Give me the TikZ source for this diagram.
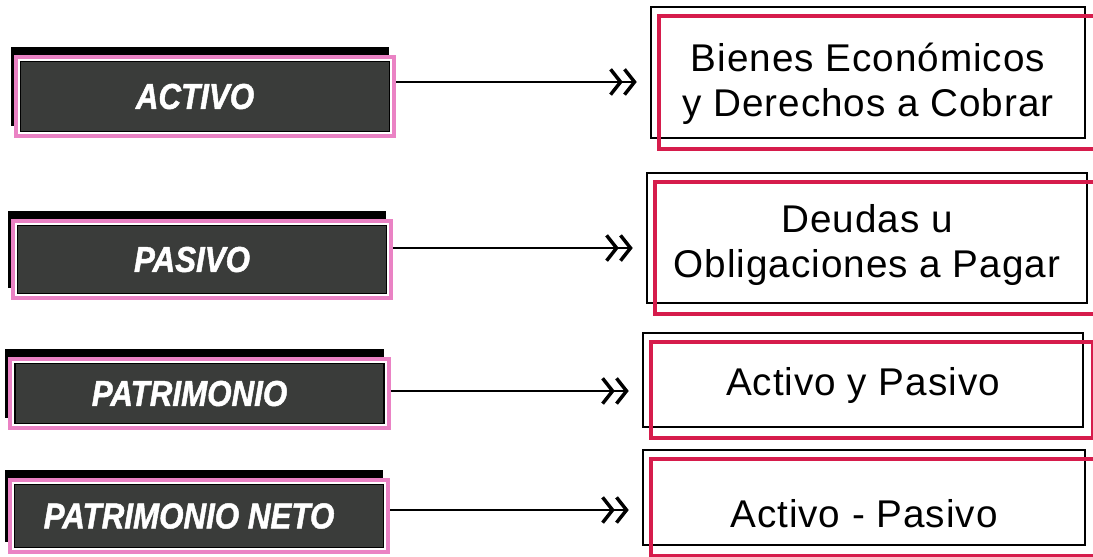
\documentclass[tikz,border=0pt]{standalone}
\usepackage{fontspec}
\setmainfont{Liberation Sans}
\newfontfamily\tagfont[FakeStretch=0.87,FakeBold=1.3]{Liberation Sans Bold Italic}
\newfontfamily\boxfont[LetterSpace=2.5]{Liberation Sans}
\usetikzlibrary{arrows.meta,shadows}
\definecolor{tagfill}{RGB}{58,60,58}
\definecolor{tagpink}{RGB}{234,130,196}
\definecolor{boxred}{RGB}{214,28,76}
\newcommand{\tg}{\tagfont\fontsize{27}{31}\selectfont}
\newcommand{\lo}[1]{\rule{0pt}{#1}}
\tikzset{
  tag/.style={draw=tagpink, line width=3pt, fill=white, minimum width=284pt,
    text=white, font=\tg, execute at end node={\kern15pt},
    general shadow={fill=black, shadow xshift=-3.75pt, shadow yshift=7.5pt},
    path picture={\draw[black, line width=1.2pt, fill=tagfill]
      ([shift={(3.6pt,-3.6pt)}]path picture bounding box.north west) rectangle
      ([shift={(-3.6pt,3.6pt)}]path picture bounding box.south east);}},
  defbox/.style={draw=black, line width=1.4pt, align=center,
    font=\boxfont\fontsize{29}{34}\selectfont},
  redframe/.style={draw=boxred, line width=3pt},
  conn/.style={line width=1.8pt, shorten >=10pt,
    -{Straight Barb[length=7.5pt,width=19pt,line width=2.6pt]
      Straight Barb[length=7.5pt,width=19pt,line width=2.6pt]}}
}

\begin{document}
\begin{tikzpicture}[x=0.75pt,y=-0.75pt]
  \useasboundingbox (0,0) rectangle (1093,557);
  % concepts
  \node[tag, minimum height=59.5pt] (tact) at (205,96.5)  {ACTIVO};
  \node[tag, minimum height=58pt]   (tpas) at (202,259.5) {PASIVO};
  \node[tag, minimum height=52pt]   (tpat) at (199.5,393.5) {PATRIMONIO};
  \node[tag, minimum height=54.3pt] (tnet) at (199,516)   {PATRIMONIO NETO};
  % definitions
  \node[defbox, minimum width=325.5pt, minimum height=98.25pt] (dact) at (868,72.5)
    {\lo{38.75pt}Bienes Económicos\\y Derechos a Cobrar};
  \node[defbox, minimum width=330pt, minimum height=97.5pt] (dpas) at (867,238)
    {\lo{32pt}Deudas u\\Obligaciones a Pagar};
  \node[defbox, minimum width=330pt, minimum height=70.5pt] (dpat) at (863,380)
    {\lo{29.8pt}Activo y Pasivo};
  \node[defbox, minimum width=331.5pt, minimum height=71.25pt] (dnet) at (864,497.5)
    {\lo{44.8pt}Activo - Pasivo};
  \draw[redframe] ([shift={(6.75pt,-7.5pt)}]dact.north west) rectangle ([shift={(6.75pt,-7.5pt)}]dact.south east);
  \draw[redframe] ([shift={(6.75pt,-7.5pt)}]dpas.north west) rectangle ([shift={(6.75pt,-7.5pt)}]dpas.south east);
  \draw[redframe] ([shift={(6.75pt,-7.5pt)}]dpat.north west) rectangle ([shift={(6.75pt,-7.5pt)}]dpat.south east);
  \draw[redframe] ([shift={(6.75pt,-7.5pt)}]dnet.north west) rectangle ([shift={(6.75pt,-7.5pt)}]dnet.south east);
  % arrows
  \draw[conn] ([yshift=10.9pt]tact.east) -- ([yshift=10.9pt]tact.east -| dact.west);
  \draw[conn] ([yshift=8.6pt]tpas.east)  -- ([yshift=8.6pt]tpas.east -| dpas.west);
  \draw[conn] ([yshift=1.9pt]tpat.east)  -- ([yshift=1.9pt]tpat.east -| dpat.west);
  \draw[conn] ([yshift=4.5pt]tnet.east)  -- ([yshift=4.5pt]tnet.east -| dnet.west);
\end{tikzpicture}
\end{document}
